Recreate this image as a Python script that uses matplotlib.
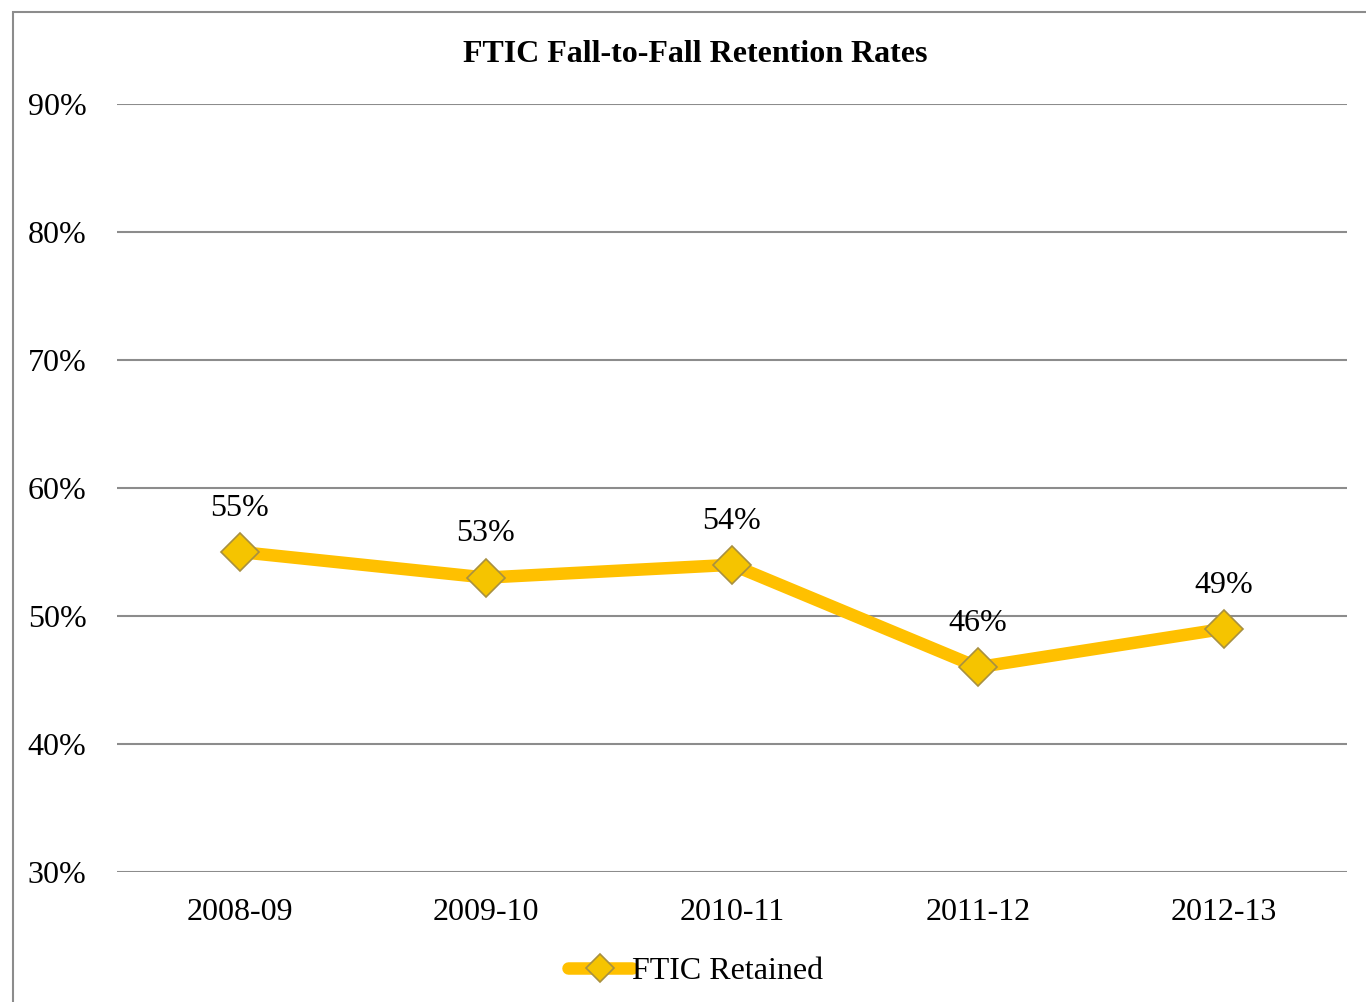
import matplotlib.pyplot as plt
from matplotlib.patches import Rectangle
from matplotlib.ticker import PercentFormatter

years = ["2008-09", "2009-10", "2010-11", "2011-12", "2012-13"]
retained = [55, 53, 54, 46, 49]
yticks = [30, 40, 50, 60, 70, 80, 90]

plt.rcParams['font.family'] = ['Liberation Serif', 'DejaVu Serif']
FS = 23

fig = plt.figure(figsize=(13.66, 10.02), dpi=100)
ax = fig.add_axes([117/1366, 1 - 872/1002, 1230/1366, 768/1002])

# outer chart border (partly cut off at right and bottom)
fig.patches.append(Rectangle((13/1366, -0.05), 1.2, 1 - 12/1002 + 0.05,
                             transform=fig.transFigure, fill=False,
                             edgecolor='#8c8c8c', linewidth=1.5))

x = range(len(years))
ax.plot(x, retained, color='#FFC000', linewidth=9, solid_capstyle='round',
        marker='D', markersize=19, markerfacecolor='#F5C400',
        markeredgecolor='#A89040', markeredgewidth=1.2, label='FTIC Retained',
        zorder=3)

for xi, v in zip(x, retained):
    ax.annotate(f"{v}%", (xi, v), xytext=(0, 21), textcoords='offset points',
                ha='center', va='bottom', fontsize=FS)

ax.set_xlim(-0.5, len(years) - 0.5)
ax.set_ylim(30, 90)
ax.set_yticks(yticks)
ax.yaxis.set_major_formatter(PercentFormatter(decimals=0))
ax.set_xticks(list(x))
ax.set_xticklabels(years)
ax.tick_params(axis='both', length=0, labelsize=FS)
ax.tick_params(axis='y', pad=22)
ax.tick_params(axis='x', pad=19)
ax.grid(axis='y', color='#8c8c8c', linewidth=1.5)
ax.set_axisbelow(True)
for s in ax.spines.values():
    s.set_visible(False)

fig.text(695/1366, 1 - 55/1002, "FTIC Fall-to-Fall Retention Rates",
         ha='center', va='center', fontsize=FS, fontweight='bold')

fig.legend(loc='center', bbox_to_anchor=(696/1366, 1 - 971/1002), frameon=False,
           fontsize=FS, handlelength=2.0, handletextpad=0.0, markerscale=0.75)

fig.savefig('out.png', dpi=100)
